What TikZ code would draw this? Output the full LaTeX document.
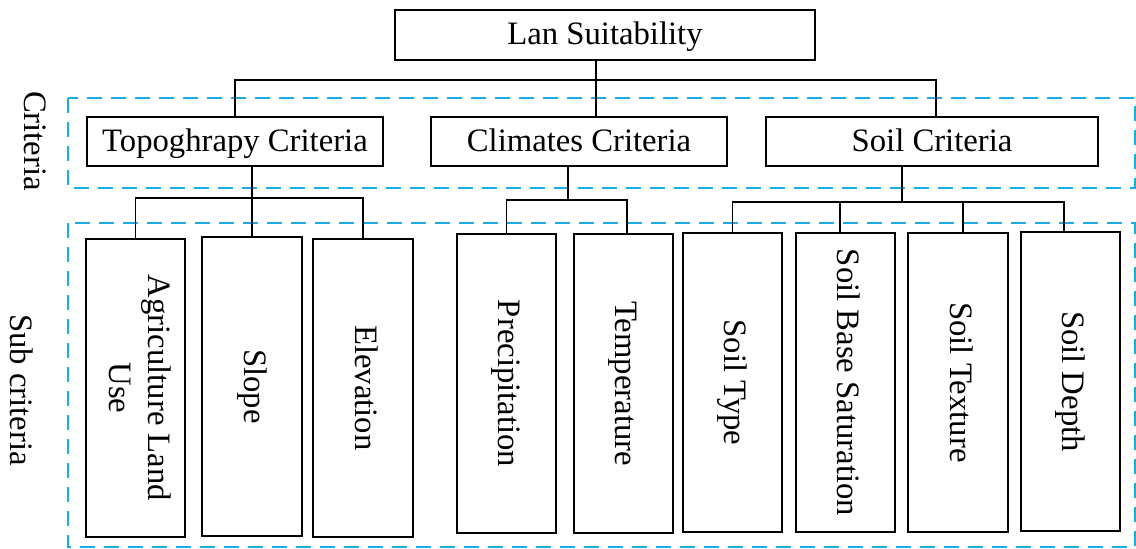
\documentclass[tikz,border=0pt]{standalone}
\usepackage{fontspec}
\setmainfont{Liberation Serif}
\definecolor{dashblue}{RGB}{24,172,230}
\begin{document}
\begin{tikzpicture}[x=1pt,y=-1pt,
  box/.style={draw=black, line width=1.4pt, inner sep=0pt, text height=25pt, text depth=5.5pt, font=\fontsize{32.7}{39}\selectfont},
  subbox/.style={draw=black, line width=1.4pt, inner sep=0pt},
  vtext/.style={rotate=-90, align=center, inner sep=0pt, text height=22.5pt, text depth=7.2pt, font=\fontsize{32.7}{39}\selectfont},
  conn/.style={draw=black, line width=1.4pt},
  grp/.style={draw=dashblue, line width=2pt, dash pattern=on 15pt off 9pt},
  sidelabel/.style={rotate=-90, inner sep=0pt, font=\fontsize{32.7}{39}\selectfont}]
\useasboundingbox (0,0) rectangle (1136,549);
% dashed groups
\draw[grp] (68,98) rectangle (1135,188);
\draw[grp] (68,223) rectangle (1135,547);
\node[sidelabel] (lcrit) at (35.5,141) {Criteria};
\node[sidelabel] (lsub) at (22,390) {Sub criteria};
% top
\node[box, minimum width=420pt, minimum height=50pt] (lan) at (605,35) {Lan Suitability};
% criteria
\node[box, minimum width=296pt, minimum height=49pt] (topo) at (235,141.5) {Topoghrapy Criteria};
\node[box, minimum width=296pt, minimum height=49pt] (clim) at (579,141.5) {Climates Criteria};
\node[box, minimum width=332pt, minimum height=49pt] (soil) at (932,141.5) {Soil Criteria};
% sub criteria boxes
\node[subbox, minimum width=99pt, minimum height=298pt] (agri) at (135.5,388) {};
\node[subbox, minimum width=100pt, minimum height=299pt] (slope) at (252,386.5) {};
\node[subbox, minimum width=100pt, minimum height=298pt] (elev) at (363,388) {};
\node[subbox, minimum width=99pt, minimum height=299pt] (prec) at (506.5,383.5) {};
\node[subbox, minimum width=99pt, minimum height=299pt] (temp) at (623.5,383.5) {};
\node[subbox, minimum width=99pt, minimum height=299pt] (stype) at (732.5,382.5) {};
\node[subbox, minimum width=99pt, minimum height=299pt] (sbs) at (845.5,382.5) {};
\node[subbox, minimum width=100pt, minimum height=299pt] (stex) at (958,382.5) {};
\node[subbox, minimum width=99pt, minimum height=299pt] (sdep) at (1070.5,381.5) {};
\node[rotate=-90, align=center, inner sep=0pt, font=\fontsize{32.7}{39}\selectfont] (tagri) at ([xshift=5pt]agri.center) {Agriculture Land\\Use};
\node[vtext] (tslope) at (slope) {Slope};
\node[vtext] (telev) at (elev) {Elevation};
\node[vtext] (tprec) at (prec) {Precipitation};
\node[vtext] (ttemp) at (temp) {Temperature};
\node[vtext] (tstype) at (stype) {Soil Type};
\node[vtext] (tsbs) at (sbs) {Soil Base Saturation};
\node[vtext] (tstex) at (stex) {Soil Texture};
\node[vtext] (tsdep) at (sdep) {Soil Depth};
% connectors level 1
\coordinate (jt) at (596,80);
\coordinate (jtl) at (235,80);
\coordinate (jtr) at (936,80);
\draw[conn] (lan.south -| jt) -- (jt);
\draw[conn] (jtl |- topo.north) -- (jtl) -- (jtr) -- (jtr |- soil.north);
\draw[conn] (jt) -- (jt |- clim.north);
% topography
\coordinate (ja) at (252,198);
\draw[conn] (topo.south -| ja) -- (ja |- slope.north);
\draw[conn] (agri.north) |- (ja) -| (elev.north);
% climates
\coordinate (jc) at (568,200);
\coordinate (jc2) at (627,200);
\draw[conn] (clim.south -| jc) -- (jc);
\draw[conn] (prec.north) |- (jc) -- (jc2) -- (jc2 |- temp.north);
% soil
\coordinate (js) at (902,202);
\coordinate (js2) at (840,202);
\coordinate (js3) at (963,202);
\coordinate (js4) at (1064,202);
\draw[conn] (soil.south -| js) -- (js);
\draw[conn] (stype.north) |- (js) -- (js4) -- (js4 |- sdep.north);
\draw[conn] (js2) -- (js2 |- sbs.north);
\draw[conn] (js3) -- (js3 |- stex.north);
\end{tikzpicture}
\end{document}
